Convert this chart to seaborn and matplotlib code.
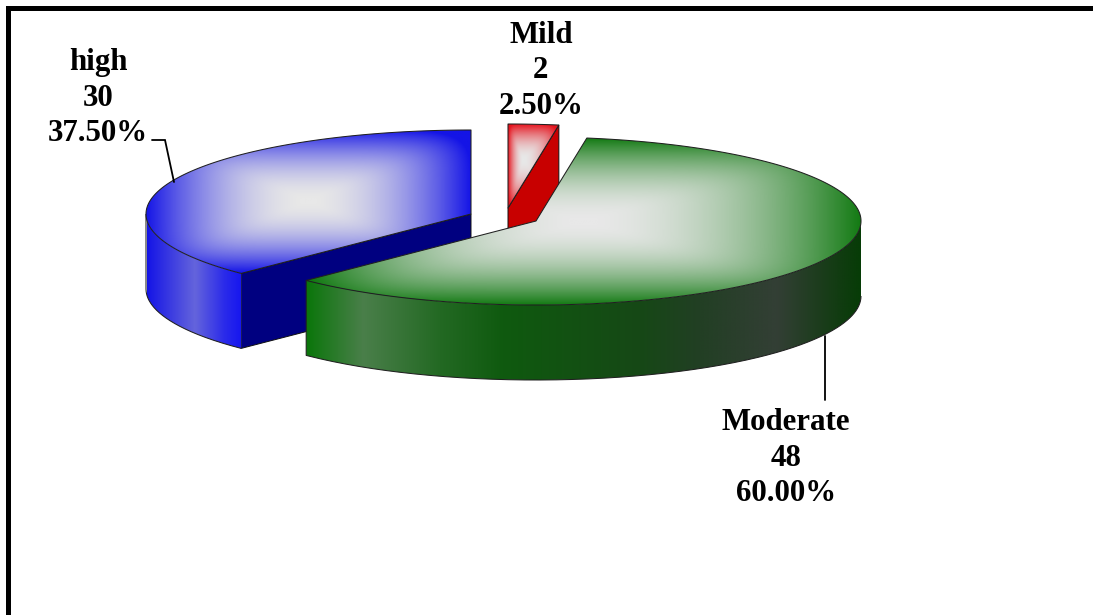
import numpy as np
import matplotlib
matplotlib.use("Agg")
import matplotlib.pyplot as plt
from matplotlib.patches import Polygon
import seaborn as sns

# Severity counts, clockwise from twelve o'clock
categories = ["Mild", "Moderate", "high"]
counts = [2, 48, 30]
percent_labels = ["2.50%", "60.00%", "37.50%"]

sns.set_theme(style="white")
plt.rcParams["font.family"] = ["Liberation Serif", "DejaVu Serif"]

WIDTH, HEIGHT = 1093, 615
RX, RY, DEPTH = 325.0, 84.0, 75.0

# Apex of each exploded slice on the canvas
apex = {"Mild": (508, 208), "Moderate": (536, 221), "high": (471, 214)}
label_pos = {"Mild": (541, 71), "Moderate": (786, 458), "high": (98, 98)}

top_edge = {"Mild": "#e6141e", "Moderate": "#137a13", "high": "#1414e6"}
top_light = "#e8e8e8"
# Where the glow peaks inside each slice's bounding box (fractions of width, height)
glow_center = {"Mild": (0.30, 0.42), "Moderate": (0.50, 0.50), "high": (0.50, 0.50)}
cut_face = {"Mild": "#c80000", "high": "#000080"}
side_stops = {
    "Moderate": [(306, "#0a760a"), (363, "#4a7f4a"), (440, "#236923"), (503, "#0f5a0f"),
                 (640, "#164816"), (700, "#223f24"), (777, "#333f35"), (835, "#143c14"),
                 (862, "#063c06")],
    "high": [(147, "#1414e6"), (195, "#6464dc"), (225, "#2a2aea"), (243, "#1414f0")],
}


def slice_angles(values):
    """Start and end of every slice in degrees, clockwise from the top."""
    shares = np.cumsum([0] + list(values)) / sum(values) * 360
    return shares[:-1], shares[1:]


def rim(cat, a0, a1, n=240):
    """Points on the top rim of a slice between two clockwise angles."""
    t = np.radians(np.linspace(a0, a1, n))
    cx, cy = apex[cat]
    return cx + RX * np.sin(t), cy - RY * np.cos(t)


def draw_image(ax, rgb, box, path, zorder):
    im = ax.imshow(rgb, extent=box, aspect="auto", interpolation="bilinear", zorder=zorder)
    patch = Polygon(path, closed=True, transform=ax.transData, fc="none", ec="none")
    ax.add_patch(patch)
    im.set_clip_path(patch)


def draw_outline(ax, path, zorder, closed=True):
    ax.add_patch(Polygon(path, closed=closed, fc="none", ec="#202020", lw=0.75,
                         zorder=zorder, joinstyle="round"))


def top_gradient(cat):
    """Rounded-box glow: bright near the peak, fading out towards the box edges."""
    fx, fy = glow_center[cat]
    xs = np.linspace(0, 1, 400)
    ys = np.linspace(0, 1, 300)
    gx = np.where(xs < fx, (fx - xs) / fx, (xs - fx) / (1 - fx))
    gy = np.where(ys < fy, (fy - ys) / fy, (ys - fy) / (1 - fy))
    mx, my = np.meshgrid(gx, gy)
    d = np.clip((mx ** 6 + my ** 6) ** (1 / 6), 0, 1)
    ramp = d ** 1.9
    ramp_colors = np.array(sns.blend_palette([top_light, top_edge[cat]], 256))
    return ramp_colors[(ramp * 255).astype(int)]


def side_gradient(cat):
    stops = side_stops[cat]
    xs = np.linspace(stops[0][0], stops[-1][0], 600)
    stop_x = [s[0] for s in stops]
    stop_rgb = np.array(sns.color_palette([s[1] for s in stops]))
    return np.stack([np.interp(xs, stop_x, stop_rgb[:, i]) for i in range(3)], axis=-1)[None, :, :]


def draw_slice(ax, cat, a0, a1, zorder):
    cx, cy = apex[cat]
    rx_pts, ry_pts = rim(cat, a0, a1)
    top = np.column_stack([np.r_[cx, rx_pts], np.r_[cy, ry_pts]])

    # Flat cut face that looks towards the viewer
    if cat in cut_face:
        edge = a1 if cat == "Mild" else a0
        ex, ey = rim(cat, edge, edge, 1)
        ex, ey = float(ex[0]), float(ey[0])
        face = [(cx, cy), (ex, ey), (ex, ey + DEPTH), (cx, cy + DEPTH)]
        ax.add_patch(Polygon(face, closed=True, fc=cut_face[cat], ec="#101010", lw=0.7,
                             zorder=zorder))

    # Curved outer wall, only the front half of the rim
    front0, front1 = max(a0, 90), min(a1, 270)
    if front1 > front0 and cat in side_stops:
        wx, wy = rim(cat, front0, front1)
        wall = np.column_stack([np.r_[wx, wx[::-1]], np.r_[wy, wy[::-1] + DEPTH]])
        stops = side_stops[cat]
        draw_image(ax, side_gradient(cat), (stops[0][0], stops[-1][0], wy.max() + DEPTH + 2, wy.min() - 2),
                   wall, zorder + 0.1)
        draw_outline(ax, np.column_stack([np.r_[wx, wx[-1]], np.r_[wy + DEPTH, wy[-1]]]),
                     zorder + 0.2, closed=False)

    # Top surface with its glow
    box = (top[:, 0].min(), top[:, 0].max(), top[:, 1].max(), top[:, 1].min())
    draw_image(ax, top_gradient(cat), box, top, zorder + 0.3)
    draw_outline(ax, top, zorder + 0.4)


fig = plt.figure(figsize=(WIDTH / 100, HEIGHT / 100), dpi=100, facecolor="white")
ax = fig.add_axes([0, 0, 1, 1])
ax.set_xlim(0, WIDTH)
ax.set_ylim(HEIGHT, 0)
ax.axis("off")

starts, ends = slice_angles(counts)
span = dict(zip(categories, zip(starts, ends)))

for order, cat in enumerate(["high", "Mild", "Moderate"]):
    draw_slice(ax, cat, *span[cat], zorder=2 + order)

# Leader lines joining the labels to their slices
ax.plot([152, 165, 174], [140, 140, 182], color="black", lw=1.3, zorder=8, solid_joinstyle="miter")
ax.plot([825, 825], [336, 400], color="black", lw=1.3, zorder=8)

for cat, n, pct in zip(categories, counts, percent_labels):
    x, y = label_pos[cat]
    ax.text(x, y, f"{cat}\n{n}\n{pct}", ha="center", va="center", fontsize=22.2,
            fontweight="bold", color="black", linespacing=1.3, zorder=9)

# Heavy frame along the top and left of the plotting area
ax.plot([7.5, 7.5, WIDTH + 5], [HEIGHT + 5, 7.5, 7.5], color="black", lw=3.6,
        solid_joinstyle="miter", zorder=10)

fig.savefig("out.png", dpi=100, facecolor="white")
